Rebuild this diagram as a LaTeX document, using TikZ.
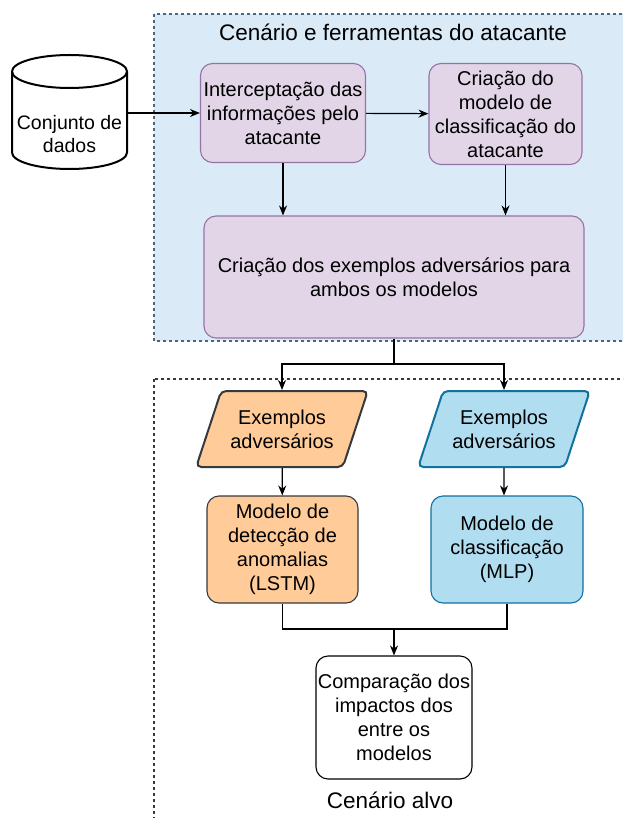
\documentclass[tikz,border=0pt]{standalone}
\usepackage{fontspec}
\setmainfont{Liberation Sans}
\usetikzlibrary{shapes.geometric,arrows.meta}

\definecolor{areaBlue}{HTML}{DAEAF7}
\definecolor{areaLine}{HTML}{4F6479}
\definecolor{lilacFill}{HTML}{E1D5E7}
\definecolor{lilacLine}{HTML}{9673A6}
\definecolor{peachFill}{HTML}{FFCC99}
\definecolor{peachLine}{HTML}{36393D}
\definecolor{skyFill}{HTML}{B1DDF0}
\definecolor{skyLine}{HTML}{10739E}

\tikzset{
	box/.style={draw, rounded corners=12pt, align=center, inner sep=1pt, line width=1.1pt,
		font=\fontsize{20}{24}\selectfont},
	lilac/.style={box, fill=lilacFill, draw=lilacLine},
	dataio/.style={trapezium, trapezium left angle=62, trapezium right angle=118,
		trapezium stretches=true, rounded corners=5pt, line width=2pt,
		minimum width=172pt, minimum height=76pt, align=center, inner sep=1pt,
		font=\fontsize{20}{24}\selectfont},
	link/.style={-{Stealth[length=10pt,width=8pt]}, line width=1.2pt},
	drum/.style={line width=2pt, fill=white},
}

\begin{document}
\begin{tikzpicture}[x=1pt, y=-1pt]
			\clip (0,0) rectangle (623,818);
			\fill[white] (0,0) rectangle (623,818);
			% areas
			\draw[fill=areaBlue, draw=areaLine, line width=1.1pt, dash pattern=on 3pt off 3pt] (154,14) rectangle (640,341);
			\draw[draw=peachLine, line width=1.1pt, dash pattern=on 3pt off 3pt] (154,379) rectangle (640,840);
			\node[font=\fontsize{22.5}{27}\selectfont] (titleAtk) at (393,32) {Cenário e ferramentas do atacante};
			\node[font=\fontsize{22.5}{27}\selectfont] (titleAlvo) at (390,800) {Cenário alvo};
			% data store (drawn by hand)
			\draw[drum] (12,71.5) -- (12,152.5) arc[start angle=180, end angle=360, x radius=57.5pt, y radius=16.5pt]
				-- (127,71.5) arc[start angle=0, end angle=180, x radius=57.5pt, y radius=16.5pt] -- cycle;
			\draw[drum, fill=none] (12,71.5) arc[start angle=180, end angle=360, x radius=57.5pt, y radius=16.5pt];
			\node[minimum width=115pt, minimum height=114pt, inner sep=0pt,
				font=\fontsize{19.5}{23}\selectfont] (dataset) at (69.5,112)
				{\raisebox{-30pt}[0pt][0pt]{\begin{tabular}{@{}c@{}}Conjunto de\\dados\end{tabular}}};
			% attacker side
			\node[lilac, minimum width=165pt, minimum height=99pt] (intercept) at (283,113) {Interceptação das\\informações pelo\\atacante};
			\node[lilac, minimum width=153pt, minimum height=101pt] (attackModel) at (505.5,114) {Criação do\\modelo de\\classificação do\\atacante};
			\node[lilac, minimum width=380pt, minimum height=122pt] (advCreate) at (394,277) {Criação dos exemplos adversários para\\ambos os modelos};
			% target side
			\node[dataio, fill=peachFill, draw=peachLine] (advLstm) at (282,429) {Exemplos\\adversários};
			\node[dataio, fill=skyFill, draw=skyLine] (advMlp) at (504,429) {Exemplos\\adversários};
			\node[box, fill=peachFill, draw=peachLine, minimum width=151pt, minimum height=107pt] (lstm) at (282.5,549.5) {Modelo de\\detecção de\\anomalias\\(LSTM)};
			\node[box, fill=skyFill, draw=skyLine, minimum width=152pt, minimum height=107pt] (mlp) at (507,549.5) {Modelo de\\classificação\\(MLP)};
			\node[box, fill=white, draw=black, minimum width=156pt, minimum height=123pt] (compare) at (394,717.5) {Comparação dos\\impactos dos\\entre os\\modelos};
			\coordinate (fork) at (394,364);
			\coordinate (join) at (394,629);
			% connectors
			\draw[link] (dataset.east |- intercept.west) -- (intercept.west);
			\draw[link] (intercept) -- (attackModel);
			\draw[link] (intercept) -- (intercept |- advCreate.north);
			\draw[link] (attackModel) -- (attackModel |- advCreate.north);
			\draw[line width=1.2pt] (advCreate.south) -- (fork);
			\draw[link] (fork) -| (advLstm.north);
			\draw[link] (fork) -| (advMlp.north);
			\draw[link] (advLstm) -- (lstm);
			\draw[link] (advMlp) -- (advMlp |- mlp.north);
			\draw[line width=1.2pt] (lstm.south) |- (join);
			\draw[line width=1.2pt] (mlp.south) |- (join);
			\draw[link] (join) -- (compare.north);
\end{tikzpicture}
\end{document}
